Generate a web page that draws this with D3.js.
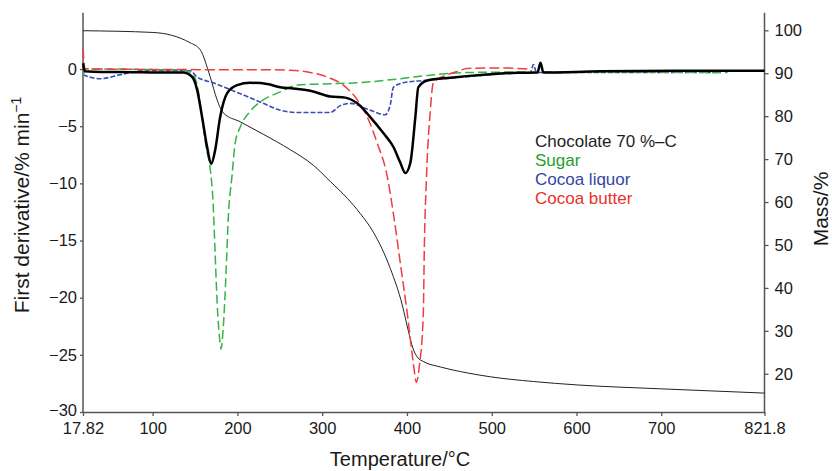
<!DOCTYPE html>
<html>
<head>
<meta charset="utf-8">
<script src="https://cdn.jsdelivr.net/npm/d3@7"></script>
<style>
  body { margin: 0; background: #fff; }
  svg { display: block; font-family: "Liberation Sans", Arial, sans-serif; }
</style>
</head>
<body>
<svg id="chart" width="832" height="471"></svg>
<script>
//
// Data
//

// x axis ticks
var xTicks = [17.82, 100, 200, 300, 400, 500, 600, 700, 821.8];
var leftTicks = [-30, -25, -20, -15, -10, -5, 0];
var rightTicks = [20, 30, 40, 50, 60, 70, 80, 90, 100];

// Chocolate 70 %-C, first derivative (black, thick)
var chocT = [17.82, 20, 40, 61.5, 108.8, 135.9, 146.5, 152.4, 158.3, 164.2, 169, 173.7, 179.6, 187.9, 199.7, 215, 235.1, 250.5, 265.8, 285.9, 309.5, 327.2, 341.4, 356.7, 372.1, 383.9, 392.2, 398.1, 404, 409.9, 413.4, 424.1, 451.2, 490.2, 530.3, 554, 557.5, 561, 628.3, 746.4, 821.8];
var chocD = [0.5, -0.2, -0.25, -0.25, -0.3, -0.3, -0.67, -1.8, -4.2, -6.8, -8.3, -7.1, -4.2, -2.1, -1.4, -1.2, -1.3, -1.6, -1.7, -1.9, -2.4, -2.5, -3.0, -4.2, -5.6, -6.8, -8.2, -9.1, -8.2, -4.2, -1.6, -1.0, -0.76, -0.5, -0.33, -0.3, 0.55, -0.3, -0.2, -0.15, -0.15];

// Sugar (green dashed)
var sugarT = [17.82, 21, 60, 100, 132.4, 147.7, 153.6, 158.3, 163, 168, 171.3, 173.7, 176.1, 179.6, 180.6, 183.1, 186.7, 189.1, 193.8, 197.3, 203.2, 215, 230.4, 250.5, 270.5, 301.2, 341.4, 380.4, 419.3, 471.3, 569.3, 778.3];
var sugarD = [-0.6, 0, 0, -0.05, -0.06, -0.5, -1.8, -4.2, -6.8, -8.8, -11.7, -16.1, -20.5, -24, -24.5, -22.8, -17.6, -13.2, -9.2, -6.5, -5.1, -3.7, -2.7, -2.0, -1.4, -1.3, -1.2, -0.94, -0.6, -0.3, -0.25, -0.3];

// Cocoa liquor (blue dashed)
var liquorT = [17.82, 37.9, 61.5, 88.7, 144.2, 152.4, 171.3, 191.4, 211.5, 230.4, 250.5, 270.5, 309.5, 321.3, 333.1, 353.2, 374.4, 380.4, 383.9, 395.7, 419.3, 471.3, 510.3, 545.7, 549.2, 552.8, 628.3, 770];
var liquorD = [-0.5, -0.85, -0.5, -0.15, -0.15, -0.7, -1.2, -1.8, -2.4, -3.0, -3.6, -3.8, -3.8, -3.2, -3.0, -3.5, -4.0, -3.1, -1.6, -1.2, -1.0, -0.67, -0.41, -0.3, 0.4, -0.3, -0.3, -0.3];

// Cocoa butter (red dashed)
var butterT = [17.82, 20.2, 37.9, 156, 235.1, 262.3, 285.9, 309.5, 324.9, 341.4, 353.2, 365, 376.8, 383.9, 392.2, 400.4, 407.5, 411.1, 414.6, 419.3, 420.5, 422.9, 427.6, 431.1, 447.7, 459.5, 471.3, 510.3, 542.1];
var butterD = [1.8, 0.05, 0, -0.05, -0.06, -0.1, -0.3, -0.8, -1.4, -2.7, -4.2, -6.5, -9.4, -12.6, -17, -21.4, -25.7, -27.4, -26, -21.4, -15.6, -9.7, -3.6, -1.2, -0.5, -0.2, 0.05, 0.1, 0];

// Chocolate mass curve (thin black, right axis)
var massT = [17.82, 100.5, 144.2, 156, 167.8, 176, 183.2, 203.2, 230.4, 262.3, 290, 309.5, 330, 345, 360.3, 380.4, 394.5, 401.6, 407, 412.2, 420, 439.4, 471.3, 498.4, 549.2, 601.2, 699.2, 821.8];
var massV = [99.9, 99.5, 97.1, 95.5, 89.2, 83.8, 80.8, 78.7, 75.8, 72.2, 68.5, 64.8, 60.8, 57.3, 53, 44.5, 36, 30, 26, 23.9, 22.8, 21.6, 20.2, 19.3, 18.2, 17.4, 16.5, 15.5];

var legendNames = ["Chocolate 70 %\u2013C", "Sugar", "Cocoa liquor", "Cocoa butter"];
var legendColors = ["#1e1e1e", "#1f9e2c", "#3444a8", "#e8322c"];

//
// Scales and axes
//

var svg = d3.select("#chart");
var x = d3.scaleLinear().domain([17.82, 821.8]).range([83, 764.5]);
var yL = d3.scaleLinear().domain([-30, 4.93]).range([412, 12.7]);
var yR = d3.scaleLinear().domain([11.1, 104.1]).range([412, 12.7]);

var axisColor = "#555";

var gx = svg.append("g")
  .attr("transform", "translate(0,412)")
  .call(d3.axisBottom(x).tickValues(xTicks).tickSize(4).tickSizeOuter(0).tickPadding(6)
    .tickFormat(function(d) { return d === 17.82 ? "17.82" : d === 821.8 ? "821.8" : d; }));

var gl = svg.append("g")
  .attr("transform", "translate(83,0)")
  .call(d3.axisLeft(yL).tickValues(leftTicks).tickSize(3).tickSizeOuter(0).tickPadding(3));

var gr = svg.append("g")
  .attr("transform", "translate(764.5,0)")
  .call(d3.axisRight(yR).tickValues(rightTicks).tickSize(4).tickSizeOuter(0).tickPadding(6));

[gx, gl, gr].forEach(function(g) {
  g.attr("font-size", 16.5).attr("font-family", "'Liberation Sans', Arial, sans-serif");
  g.select(".domain").attr("stroke", axisColor).attr("stroke-width", 1.5);
  g.selectAll(".tick line").attr("stroke", axisColor).attr("stroke-width", 1.3);
  g.selectAll(".tick text").attr("fill", "#1a1a1a");
});
// stretch vertical axis lines up to the top of the frame
gl.select(".domain").attr("d", "M0,12.7V412");
gr.select(".domain").attr("d", "M0,12.7V412");
// lift the lowest left label a little so it clears the first x label
gl.selectAll(".tick text").filter(function(d) { return d === -30; }).attr("dy", "0.2em");

//
// Curves
//

function series(ts, vs) {
  return ts.map(function(t, i) { return [t, vs[i]]; });
}

var lineL = d3.line()
  .x(function(d) { return x(d[0]); })
  .y(function(d) { return yL(d[1]); })
  .curve(d3.curveMonotoneX);

var lineR = d3.line()
  .x(function(d) { return x(d[0]); })
  .y(function(d) { return yR(d[1]); })
  .curve(d3.curveMonotoneX);

svg.append("path")
  .attr("d", lineR(series(massT, massV)))
  .attr("fill", "none").attr("stroke", "#222").attr("stroke-width", 1);

svg.append("path")
  .attr("d", lineL(series(liquorT, liquorD)))
  .attr("fill", "none").attr("stroke", "#3a4ab2").attr("stroke-width", 1.6)
  .attr("stroke-dasharray", "5,2");

svg.append("path")
  .attr("d", lineL(series(sugarT, sugarD)))
  .attr("fill", "none").attr("stroke", "#35b444").attr("stroke-width", 1.5)
  .attr("stroke-dasharray", "9,4");

svg.append("path")
  .attr("d", lineL(series(butterT, butterD)))
  .attr("fill", "none").attr("stroke", "#f03c3c").attr("stroke-width", 1.5)
  .attr("stroke-dasharray", "10,4");

svg.append("path")
  .attr("d", lineL(series(chocT, chocD)))
  .attr("fill", "none").attr("stroke", "#000").attr("stroke-width", 2.5);

//
// Legend
//

svg.append("g").selectAll("text")
  .data(legendNames)
  .enter().append("text")
  .attr("x", 535)
  .attr("y", function(d, i) { return 146.7 + i * 19; })
  .attr("font-size", 17)
  .attr("fill", function(d, i) { return legendColors[i]; })
  .text(function(d) { return d; });

//
// Axis titles
//

svg.append("text")
  .attr("x", 400).attr("y", 466)
  .attr("text-anchor", "middle").attr("font-size", 20).attr("fill", "#1a1a1a")
  .text("Temperature/\u00b0C");

var lt = svg.append("text")
  .attr("transform", "translate(29,205) rotate(-90)")
  .attr("text-anchor", "middle").attr("font-size", 21).attr("fill", "#1a1a1a");
lt.append("tspan").text("First derivative/% min");
lt.append("tspan").attr("dy", -8).attr("font-size", 14).text("\u22121");

svg.append("text")
  .attr("transform", "translate(828,209) rotate(-90)")
  .attr("text-anchor", "middle").attr("font-size", 21).attr("fill", "#1a1a1a")
  .text("Mass/%");
</script>
</body>
</html>
